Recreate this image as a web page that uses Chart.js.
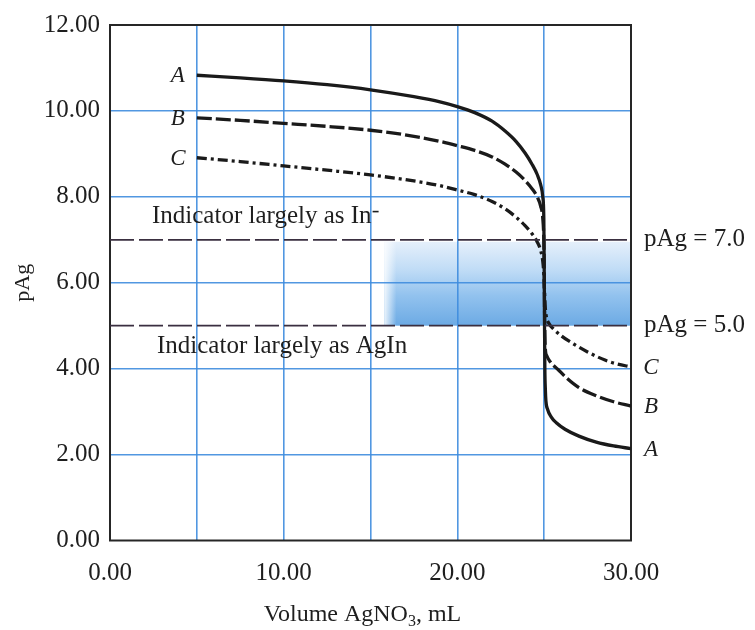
<!DOCTYPE html>
<html>
<head>
<meta charset="utf-8">
<script src="https://cdn.jsdelivr.net/npm/chart.js@4.4.1/dist/chart.umd.min.js"></script>
<style>
  html, body { margin: 0; padding: 0; background: #fff; }
  canvas { display: block; }
</style>
</head>
<body>
<canvas id="chart" width="755" height="630"></canvas>
<script>
// Titration of halide with AgNO3: pAg against volume of titrant (mL)
// Curves A, B, C (each tenfold more dilute than the previous)
const curveA = [[5,10.83],[7.5,10.77],[10,10.70],[12.5,10.61],[15,10.49],[17.5,10.33],[19,10.21],[20,10.10],[21,9.96],[22,9.76],[22.75,9.53],[23.4,9.28],[23.9,9.02],[24.3,8.76],[24.6,8.52],[24.8,8.28],[24.92,8.0],[24.98,7.5],[25.0,6.5],[25.02,5.0],[25.04,4.0],[25.07,3.5],[25.1,3.25],[25.2,3.05],[25.4,2.88],[25.7,2.74],[26.2,2.59],[27,2.43],[28,2.29],[29,2.2],[30,2.14]];
const curveB = [[5,9.84],[7.5,9.78],[10,9.71],[12.5,9.64],[15,9.55],[17.5,9.41],[19,9.29],[20,9.19],[21,9.08],[22,8.93],[22.75,8.76],[23.4,8.57],[23.9,8.38],[24.3,8.19],[24.6,8.0],[24.8,7.78],[24.92,7.5],[24.98,7.0],[25.0,6.5],[25.02,5.5],[25.04,4.8],[25.07,4.45],[25.15,4.3],[25.35,4.16],[25.8,3.98],[26.3,3.78],[27,3.56],[28,3.37],[29,3.23],[30,3.13]];
const curveC = [[5,8.91],[7.5,8.82],[10,8.72],[12.5,8.62],[15,8.51],[17.5,8.37],[19,8.26],[20,8.16],[21,8.05],[22,7.89],[22.75,7.72],[23.4,7.52],[23.9,7.33],[24.3,7.14],[24.6,6.95],[24.8,6.75],[24.92,6.5],[24.98,6.2],[25.02,5.8],[25.06,5.45],[25.12,5.22],[25.25,5.07],[25.6,4.9],[26.0,4.76],[26.8,4.55],[27.5,4.39],[28.5,4.2],[29.2,4.11],[30,4.04]];
const curveNames = ['A', 'B', 'C'];

// Indicator transition limits (pAg) and the shaded transition window (mL)
const pAgLimits = [5.0, 7.0];
const shadeVolume = [15.8, 30];

// Axis ranges and tick steps
const xRange = [0, 30];
const yRange = [0, 12];
const xGridStep = 5;
const xLabelStep = 10;
const yStep = 2;

const SERIF = '"Liberation Serif", "Times New Roman", serif';
const INK = '#1e1e1e';
const GRID = 'rgba(62,140,222,0.9)';

const toXY = arr => arr.map(p => ({ x: p[0], y: p[1] }));

const curveStyle = (pts, dash) => ({
  data: toXY(pts),
  borderColor: '#1a1a1a',
  borderWidth: 3.3,
  borderDash: dash,
  pointRadius: 0,
  cubicInterpolationMode: 'monotone',
  fill: false
});

const limitLine = v => ({
  data: [{ x: xRange[0], y: v }, { x: xRange[1], y: v }],
  borderColor: '#3a2f40',
  borderWidth: 1.8,
  borderDash: [24, 5],
  pointRadius: 0,
  tension: 0,
  fill: false
});

// Shaded indicator window, white background and plot frame
const backdrop = {
  id: 'backdrop',
  beforeDraw(chart) {
    const { ctx, scales: { x, y } } = chart;
    ctx.save();
    ctx.fillStyle = '#fff';
    ctx.fillRect(0, 0, chart.width, chart.height);
    const x0 = x.getPixelForValue(shadeVolume[0]);
    const x1 = x.getPixelForValue(shadeVolume[1]);
    const yTop = y.getPixelForValue(pAgLimits[1]);
    const yBot = y.getPixelForValue(pAgLimits[0]);
    const g = ctx.createLinearGradient(0, yTop, 0, yBot);
    g.addColorStop(0, 'rgb(232,241,251)');
    g.addColorStop(0.35, 'rgb(192,220,246)');
    g.addColorStop(0.65, 'rgb(146,194,238)');
    g.addColorStop(1, 'rgb(108,170,228)');
    ctx.fillStyle = g;
    ctx.fillRect(x0, yTop + 2, x1 - x0, yBot - yTop - 2);
    const h = ctx.createLinearGradient(x0, 0, x0 + 12, 0);
    h.addColorStop(0, 'rgba(255,255,255,0.85)');
    h.addColorStop(1, 'rgba(255,255,255,0)');
    ctx.fillStyle = h;
    ctx.fillRect(x0, yTop + 2, 12, yBot - yTop - 2);
    ctx.restore();
  },
  beforeDatasetsDraw(chart) {
    const { ctx, chartArea: a } = chart;
    ctx.save();
    ctx.strokeStyle = '#262626';
    ctx.lineWidth = 2;
    ctx.strokeRect(a.left, a.top, a.right - a.left, a.bottom - a.top);
    ctx.restore();
  }
};

// Curve letters, limit labels, region captions and the x-axis title
const annotations = {
  id: 'annotations',
  afterDraw(chart) {
    const { ctx, chartArea: a, scales: { x, y } } = chart;
    const curves = [curveA, curveB, curveC];
    ctx.save();
    ctx.fillStyle = INK;

    ctx.font = 'italic 23px ' + SERIF;
    ctx.textAlign = 'center';
    ctx.textBaseline = 'middle';
    curves.forEach((c, i) => {
      const first = c[0], last = c[c.length - 1];
      ctx.fillText(curveNames[i], x.getPixelForValue(first[0]) - 19, y.getPixelForValue(first[1]) + 1);
      ctx.fillText(curveNames[i], a.right + 20, y.getPixelForValue(last[1]) + 1);
    });

    ctx.font = '25px ' + SERIF;
    ctx.textAlign = 'left';
    pAgLimits.forEach(v => {
      ctx.fillText('pAg = ' + v.toFixed(1), a.right + 13, y.getPixelForValue(v));
    });

    ctx.textBaseline = 'alphabetic';
    const upper = y.getPixelForValue(pAgLimits[1]);
    const lower = y.getPixelForValue(pAgLimits[0]);
    const t1 = 'Indicator largely as In';
    ctx.fillText(t1, a.left + 42, upper - 17);
    const w1 = ctx.measureText(t1).width;
    ctx.fillRect(a.left + 42 + w1 + 1, upper - 29, 6, 1.6);
    ctx.fillText('Indicator largely as AgIn', a.left + 47, lower + 27);

    // x-axis title with subscript
    const big = '24px ' + SERIF, small = '16px ' + SERIF;
    const p1 = 'Volume AgNO', p2 = '3', p3 = ', mL';
    ctx.font = big; const w1a = ctx.measureText(p1).width, w3 = ctx.measureText(p3).width;
    ctx.font = small; const w2 = ctx.measureText(p2).width;
    const cx = (a.left + a.right) / 2 - 8;
    let sx = cx - (w1a + w2 + w3) / 2;
    const base = 621;
    ctx.font = big; ctx.fillText(p1, sx, base); sx += w1a;
    ctx.font = small; ctx.fillText(p2, sx, base + 5); sx += w2;
    ctx.font = big; ctx.fillText(p3, sx, base);
    ctx.restore();
  }
};

new Chart(document.getElementById('chart'), {
  type: 'line',
  data: {
    datasets: [
      limitLine(pAgLimits[1]),
      limitLine(pAgLimits[0]),
      curveStyle(curveC, [10, 4, 3, 4]),
      curveStyle(curveB, [15, 4]),
      curveStyle(curveA, [])
    ]
  },
  options: {
    responsive: false,
    devicePixelRatio: 1,
    animation: false,
    layout: { padding: { top: 22, right: 124, left: 0, bottom: 0 } },
    plugins: { legend: { display: false }, tooltip: { enabled: false } },
    scales: {
      x: {
        type: 'linear',
        min: xRange[0], max: xRange[1],
        afterFit(s) { s.height = 89.5; },
        border: { display: false },
        grid: {
          drawTicks: false,
          lineWidth: 1.6,
          color: c => (c.tick && (c.tick.value === xRange[0] || c.tick.value === xRange[1])) ? 'rgba(0,0,0,0)' : GRID
        },
        ticks: {
          stepSize: xGridStep,
          autoSkip: false,
          maxRotation: 0,
          padding: 18,
          color: INK,
          font: { family: SERIF, size: 25 },
          callback: v => (v % xLabelStep === 0 ? v.toFixed(2) : '')
        }
      },
      y: {
        type: 'linear',
        min: yRange[0], max: yRange[1],
        afterFit(s) { s.width = 110; },
        border: { display: false },
        grid: {
          drawTicks: false,
          lineWidth: 1.6,
          color: c => (c.tick && (c.tick.value === yRange[0] || c.tick.value === yRange[1])) ? 'rgba(0,0,0,0)' : GRID
        },
        ticks: {
          stepSize: yStep,
          padding: 10,
          color: INK,
          font: { family: SERIF, size: 25 },
          callback: v => v.toFixed(2)
        },
        title: {
          display: true,
          text: 'pAg',
          color: INK,
          font: { family: SERIF, size: 22 },
          padding: { top: 10, bottom: 0 }
        }
      }
    }
  },
  plugins: [backdrop, annotations]
});
</script>
</body>
</html>
